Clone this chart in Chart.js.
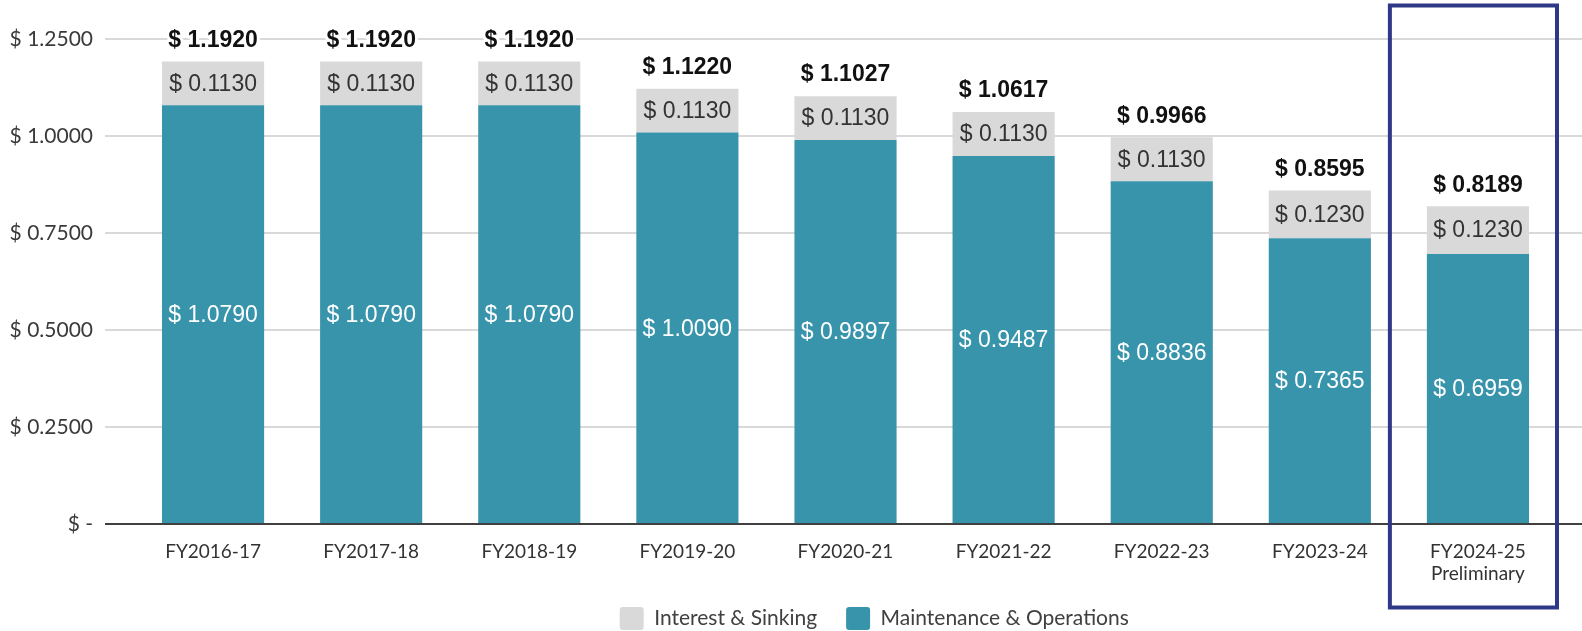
<!DOCTYPE html>
<html>
<head>
<meta charset="utf-8">
<script src="https://cdn.jsdelivr.net/npm/chart.js@4/dist/chart.umd.min.js"></script>
<style>
  html, body { margin: 0; padding: 0; background: #fff; }
  #wrap { width: 1582px; height: 631px; position: relative; }
</style>
</head>
<body>
<div id="wrap"><canvas id="taxChart"></canvas></div>
<script>
// tax rate data per fiscal year
const years = ['FY2016-17', 'FY2017-18', 'FY2018-19', 'FY2019-20', 'FY2020-21',
  'FY2021-22', 'FY2022-23', 'FY2023-24', ['FY2024-25', 'Preliminary']];
const maintOps = [1.0790, 1.0790, 1.0790, 1.0090, 0.9897, 0.9487, 0.8836, 0.7365, 0.6959];
const interestSinking = [0.1130, 0.1130, 0.1130, 0.1130, 0.1130, 0.1130, 0.1130, 0.1230, 0.1230];
const totalRate = [1.1920, 1.1920, 1.1920, 1.1220, 1.1027, 1.0617, 0.9966, 0.8595, 0.8189];
const yTicks = [0, 0.25, 0.5, 0.75, 1.0, 1.25];

const TEAL = '#3794ab';
const GRAY = '#d9d9d9';
const NAVY = '#2e3886';

const money = v => '$ ' + v.toFixed(4);

// horizontal grid lines run wider than the category area
const gridPlugin = {
  id: 'wideGrid',
  beforeDatasetsDraw(chart) {
    const { ctx, scales: { y } } = chart;
    ctx.save();
    yTicks.forEach(v => {
      if (v === 0) return;
      const py = y.getPixelForValue(v);
      ctx.strokeStyle = '#d9d9d9';
      ctx.lineWidth = 2;
      ctx.beginPath();
      ctx.moveTo(105, py);
      ctx.lineTo(chart.width, py);
      ctx.stroke();
    });
    ctx.restore();
  },
  afterDatasetsDraw(chart) {
    const { ctx, scales: { y } } = chart;
    const py = y.getPixelForValue(0);
    ctx.save();
    ctx.strokeStyle = '#404040';
    ctx.lineWidth = 2;
    ctx.beginPath();
    ctx.moveTo(105, py);
    ctx.lineTo(chart.width, py);
    ctx.stroke();
    ctx.restore();
  }
};

const labelPlugin = {
  id: 'barLabels',
  afterDatasetsDraw(chart) {
    const ctx = chart.ctx;
    const moMeta = chart.getDatasetMeta(0);
    const isMeta = chart.getDatasetMeta(1);
    ctx.save();
    ctx.textAlign = 'center';
    ctx.textBaseline = 'middle';
    ctx.font = '23px "Liberation Sans", Arial, sans-serif';
    moMeta.data.forEach((bar, i) => {
      ctx.fillStyle = '#ffffff';
      ctx.fillText(money(maintOps[i]), bar.x, (bar.y + bar.base) / 2 + 1);
    });
    isMeta.data.forEach((bar, i) => {
      ctx.fillStyle = '#333333';
      ctx.fillText(money(interestSinking[i]), bar.x, (bar.y + bar.base) / 2 + 1);
    });
    ctx.font = 'bold 23px "Liberation Sans", Arial, sans-serif';
    ctx.lineJoin = 'round';
    isMeta.data.forEach((bar, i) => {
      const ty = chart.scales.y.getPixelForValue(totalRate[i]) - 21;
      ctx.strokeStyle = '#ffffff';
      ctx.lineWidth = 6;
      ctx.strokeText(money(totalRate[i]), bar.x, ty);
      ctx.fillStyle = '#111111';
      ctx.fillText(money(totalRate[i]), bar.x, ty);
    });
    ctx.restore();
  }
};

// box around the preliminary year
const highlightPlugin = {
  id: 'highlight',
  afterDraw(chart) {
    const { ctx, scales: { x } } = chart;
    const w = x.getPixelForValue(1) - x.getPixelForValue(0);
    const c = x.getPixelForValue(years.length - 1);
    ctx.save();
    ctx.strokeStyle = NAVY;
    ctx.lineWidth = 4;
    ctx.strokeRect(c - 0.557 * w, 5.5, 0.557 * w + 0.5 * w, 602);
    ctx.restore();
  }
};

// keep the legend compact so it sits just under the axis labels
const LEGEND_H = 45;
const legendFitPlugin = {
  id: 'legendFit',
  afterInit(chart) {
    const lg = chart.legend;
    if (!lg) return;
    const fit = lg.fit;
    lg.fit = function () {
      fit.call(this);
      this.height = LEGEND_H;
    };
  },
  afterLayout(chart) {
    const lg = chart.legend;
    if (!lg) return;
    lg.top -= 8;
    lg.height += 8;
  }
};

new Chart(document.getElementById('taxChart'), {
  type: 'bar',
  data: {
    labels: years,
    datasets: [
      { label: 'Maintenance & Operations', data: maintOps, backgroundColor: TEAL, stack: 'rate' },
      { label: 'Interest & Sinking', data: interestSinking, backgroundColor: GRAY, stack: 'rate' },
      { label: 'Total Tax Rate', type: 'line', data: totalRate, stack: 'total',
        showLine: false, pointRadius: 0, borderColor: '#ffffff', backgroundColor: '#ffffff' }
    ]
  },
  options: {
    responsive: true, maintainAspectRatio: false, animation: false,
    categoryPercentage: 1, barPercentage: 0.646,
    layout: { padding: { top: 39, right: 25, left: 0, bottom: 0 } },
    plugins: {
      tooltip: { enabled: false },
      legend: {
        position: 'bottom', reverse: true,
        labels: {
          font: { family: 'Lato', size: 21 }, color: '#404040',
          boxWidth: 24, boxHeight: 23, useBorderRadius: true, borderRadius: 3, padding: 29,
          generateLabels(chart) {
            return chart.data.datasets.map((ds, i) => ({
              text: ds.label,
              fillStyle: ds.backgroundColor,
              strokeStyle: ds.backgroundColor,
              lineWidth: 0,
              fontColor: i === 2 ? '#ffffff' : '#404040',
              borderRadius: 3,
              datasetIndex: i,
              hidden: false
            }));
          }
        }
      }
    },
    scales: {
      x: {
        stacked: true,
        afterFit(scale) { scale.height = 631 - 524 - LEGEND_H; },
        grid: { display: false, drawTicks: false },
        border: { display: false },
        ticks: { font: { family: 'Lato', size: 19 }, color: '#333333', padding: 16, maxRotation: 0 }
      },
      y: {
        stacked: true, min: 0, max: 1.25,
        afterFit(scale) { scale.width = 134; scale.paddingTop = 0; scale.paddingBottom = 0; },
        afterBuildTicks(scale) { scale.ticks = yTicks.map(v => ({ value: v })); },
        grid: { display: false, drawTicks: false },
        border: { display: false },
        ticks: {
          font: { family: 'Lato', size: 21 }, color: '#3a3a3a', padding: 41,
          callback: v => v === 0 ? '$ -' : money(v)
        }
      }
    }
  },
  plugins: [gridPlugin, labelPlugin, highlightPlugin, legendFitPlugin]
});
</script>
</body>
</html>
